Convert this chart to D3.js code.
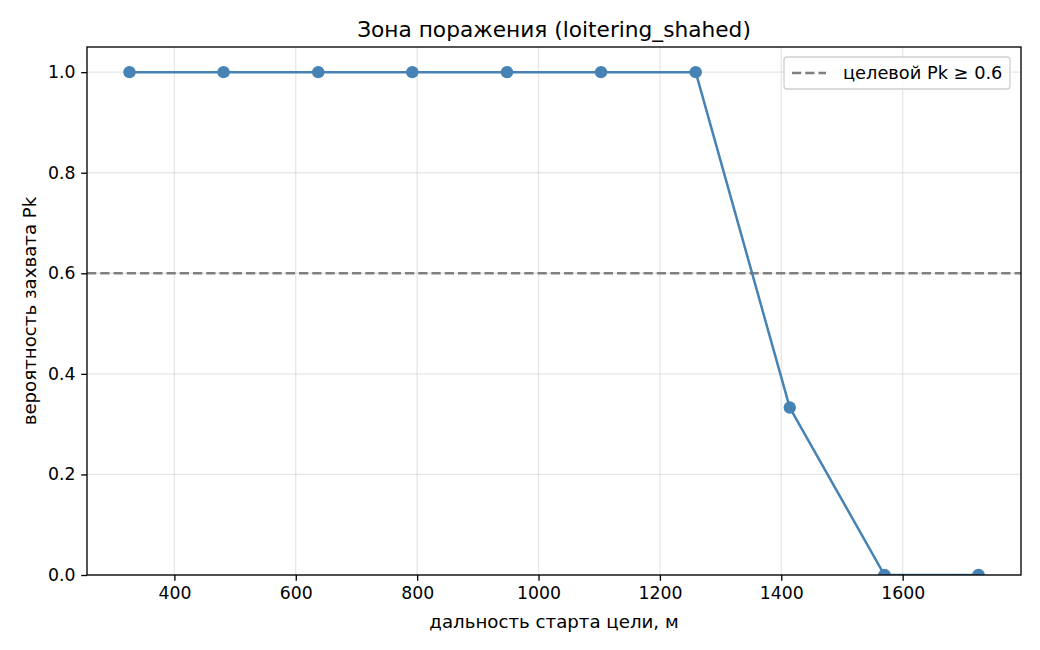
<!DOCTYPE html>
<html><head><meta charset="utf-8">
<script src="https://cdn.jsdelivr.net/npm/d3@7"></script>
<style>body{margin:0;background:#fff}svg{display:block}text{font-family:"DejaVu Sans",sans-serif}</style>
</head><body>
<svg id="c" width="1040" height="650"></svg>
<script>
const distances = [326, 481, 637, 792, 948, 1103, 1259, 1414, 1570, 1725];
const pk = [1, 1, 1, 1, 1, 1, 1, 0.333, 0, 0];
const xTicks = [400, 600, 800, 1000, 1200, 1400, 1600];
const yTicks = [0, 0.2, 0.4, 0.6, 0.8, 1.0];
const target = 0.6;
const title = "Зона поражения (loitering_shahed)";
const xLabel = "дальность старта цели, м";
const yLabel = "вероятность захвата Pk";
const legendLabel = "целевой Pk ≥ 0.6";

const svg = d3.select("#c");
const L = 87, R = 1021, T = 47, B = 575;
const x = d3.scaleLinear().domain([256, 1795]).range([L, R]);
const y = d3.scaleLinear().domain([0, 1.05]).range([B, T]);
const fs = 17.3, lfs = 18.2, tfs = 21.7, legfs = 17.8;

svg.append("defs").append("clipPath").attr("id", "clip")
  .append("rect").attr("x", L).attr("y", T).attr("width", R - L).attr("height", B - T);

// grid
const g = svg.append("g");
g.selectAll(".gx").data(xTicks).join("line")
  .attr("x1", d => x(d)).attr("x2", d => x(d)).attr("y1", T).attr("y2", B)
  .attr("stroke", "#b0b0b0").attr("stroke-opacity", 0.3).attr("stroke-width", 1.33);
g.selectAll(".gy").data(yTicks).join("line")
  .attr("y1", d => y(d)).attr("y2", d => y(d)).attr("x1", L).attr("x2", R)
  .attr("stroke", "#b0b0b0").attr("stroke-opacity", 0.3).attr("stroke-width", 1.33);

// target line
svg.append("line").attr("x1", L).attr("x2", R).attr("y1", y(target)).attr("y2", y(target))
  .attr("stroke", "#808080").attr("stroke-width", 2.5).attr("stroke-dasharray", "9.25,4");

const pg = svg.append("g").attr("clip-path", "url(#clip)");
pg.append("path").datum(distances.map((d, i) => [d, pk[i]]))
  .attr("d", d3.line().x(d => x(d[0])).y(d => y(d[1])))
  .attr("fill", "none").attr("stroke", "#4682b4").attr("stroke-width", 2.5).attr("stroke-linejoin", "round");
pg.selectAll("circle").data(distances.map((d, i) => [d, pk[i]])).join("circle")
  .attr("cx", d => x(d[0])).attr("cy", d => y(d[1])).attr("r", 6.2).attr("fill", "#4682b4");

// axes
const xAxis = d3.axisBottom(x).tickValues(xTicks).tickFormat(d3.format("d")).tickSizeOuter(0).tickSize(5.8).tickPadding(5.8);
const yAxis = d3.axisLeft(y).tickValues(yTicks).tickFormat(d3.format(".1f")).tickSizeOuter(0).tickSize(5.8).tickPadding(5.8);
const gx = svg.append("g").attr("transform", `translate(0,${B})`).call(xAxis);
const gy = svg.append("g").attr("transform", `translate(${L},0)`).call(yAxis);
[gx, gy].forEach(a => {
  a.select(".domain").remove();
  a.selectAll("line").attr("stroke", "#000").attr("stroke-width", 1.33);
  a.selectAll("text").attr("font-size", fs).attr("fill", "#000").attr("font-family", "DejaVu Sans");
});
svg.append("rect").attr("x", L).attr("y", T).attr("width", R - L).attr("height", B - T)
  .attr("fill", "none").attr("stroke", "#000").attr("stroke-width", 1.33);

// labels
svg.append("text").attr("x", (L + R) / 2).attr("y", 37).attr("text-anchor", "middle")
  .attr("font-size", tfs).text(title);
svg.append("text").attr("x", (L + R) / 2).attr("y", 628).attr("text-anchor", "middle")
  .attr("font-size", lfs).text(xLabel);
svg.append("text").attr("transform", `translate(36,${(T + B) / 2}) rotate(-90)`).attr("text-anchor", "middle")
  .attr("font-size", lfs).text(yLabel);

// legend
const lg = svg.append("g");
lg.append("rect").attr("x", 784).attr("y", 57).attr("width", 226).attr("height", 32).attr("rx", 3)
  .attr("fill", "#fff").attr("fill-opacity", 0.8).attr("stroke", "#d0d0d0").attr("stroke-width", 1.33);
lg.append("line").attr("x1", 792).attr("x2", 826).attr("y1", 73).attr("y2", 73)
  .attr("stroke", "#808080").attr("stroke-width", 2.5).attr("stroke-dasharray", "9.25,4");
lg.append("text").attr("x", 843).attr("y", 79).attr("font-size", legfs).text(legendLabel);
</script>
</body></html>
